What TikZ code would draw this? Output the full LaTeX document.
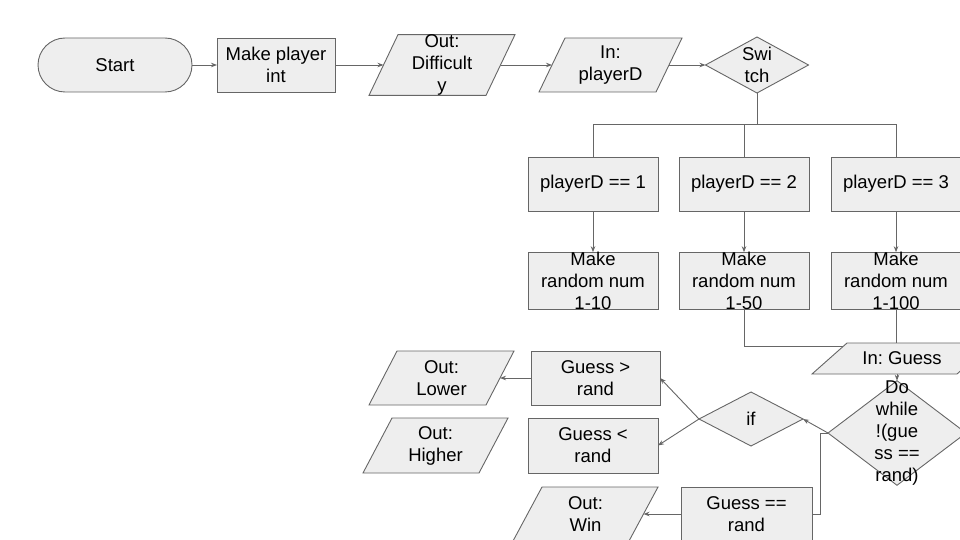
\documentclass[tikz,border=0pt]{standalone}
\usepackage{fontspec}
\setmainfont{Liberation Sans}
\frenchspacing
\usetikzlibrary{arrows.meta}
\definecolor{boxfill}{HTML}{EEEEEE}
\definecolor{edge}{HTML}{666666}
\pgfdeclarelayer{conn}
\pgfdeclarelayer{shapes}
\pgfsetlayers{conn,shapes,main}
\begin{document}
\begin{tikzpicture}[x=1pt,y=-1pt,
  every node/.style={font=\fontsize{18.5}{22}\selectfont, align=center, inner sep=0pt, outer sep=0pt},
  rbox/.style={draw=edge, fill=boxfill, line width=0.9pt, rectangle},
  shp/.style={draw=edge, fill=boxfill, line width=0.9pt, line join=miter},
  conn/.style={draw=edge, line width=0.9pt},
  arr/.style={conn, -{Stealth[length=6pt,width=4.5pt]}},
]
\useasboundingbox (0,0) rectangle (960,540);
\clip (0,0) rectangle (960,540);

% top row
\node[rbox, rounded corners=27pt, minimum width=154pt, minimum height=54pt] (start) at (115,65) {Start};
\node[rbox, minimum width=118pt, minimum height=54pt] (mk) at (276,65) {Make player\\int};
\node[minimum width=146pt, minimum height=54pt] (od) at (442,65) {Out:\\Difficult\\y};
\node[minimum width=143pt, minimum height=54pt] (ip) at (610.5,65) {In:\\playerD};
\node[minimum width=103pt, minimum height=56pt] (sw) at (757,65) {Swi\\tch};

% switch cases
\node[rbox, minimum width=130pt, minimum height=54pt] (p1) at (593,184) {playerD == 1};
\node[rbox, minimum width=130pt, minimum height=54pt] (p2) at (744,184) {playerD == 2};
\node[rbox, minimum width=130pt, minimum height=54pt] (p3) at (896,184) {playerD == 3};
\node[rbox, minimum width=130pt, minimum height=56pt] (r1) at (593,281) {Make\\random num\\1-10};
\node[rbox, minimum width=130pt, minimum height=56pt] (r2) at (744,281) {Make\\random num\\1-50};
\node[rbox, minimum width=130pt, minimum height=56pt] (r3) at (896,281) {Make\\random num\\1-100};

% loop
\node[minimum width=180pt, minimum height=31pt] (ig) at (902,358.5) {In: Guess};
\node[minimum width=138pt, minimum height=104pt] (dw) at (897,433) {Do\\while\\!(gue\\ss ==\\rand)};
\node[minimum width=104pt, minimum height=54pt] (ifd) at (751,419) {if};
\node[rbox, minimum width=129pt, minimum height=54pt] (gg) at (595.5,378) {Guess >\\rand};
\node[rbox, minimum width=130pt, minimum height=55pt] (gl) at (593,445.5) {Guess <\\rand};
\node[rbox, minimum width=131pt, minimum height=54pt] (gw) at (746.5,514) {Guess ==\\rand};
\node[minimum width=145pt, minimum height=54pt] (ol) at (441.5,378) {Out:\\Lower};
\node[minimum width=145pt, minimum height=55pt] (oh) at (435.5,445.5) {Out:\\Higher};
\node[minimum width=145pt, minimum height=54pt] (ow) at (585.5,514) {Out:\\Win};

\coordinate (j) at (896,346);

% shapes drawn behind the texts
\begin{pgfonlayer}{shapes}
\path[shp] (od.south west) -- ([xshift=29pt]od.north west) -- (od.north east) -- ([xshift=-29pt]od.south east) -- cycle;
\path[shp] (ip.south west) -- ([xshift=26pt]ip.north west) -- (ip.north east) -- ([xshift=-26pt]ip.south east) -- cycle;
\path[shp] (ig.south west) -- ([xshift=35pt]ig.north west) -- (ig.north east) -- ([xshift=-35pt]ig.south east) -- cycle;
\path[shp] (ol.south west) -- ([xshift=28pt]ol.north west) -- (ol.north east) -- ([xshift=-28pt]ol.south east) -- cycle;
\path[shp] (oh.south west) -- ([xshift=29pt]oh.north west) -- (oh.north east) -- ([xshift=-29pt]oh.south east) -- cycle;
\path[shp] (ow.south west) -- ([xshift=29pt]ow.north west) -- (ow.north east) -- ([xshift=-29pt]ow.south east) -- cycle;
\path[shp] (sw.west) -- (sw.north) -- (sw.east) -- (sw.south) -- cycle;
\path[shp] (ifd.west) -- (ifd.north) -- (ifd.east) -- (ifd.south) -- cycle;
\path[shp] (dw.west) -- (dw.north) -- (dw.east) -- (dw.south) -- cycle;
\end{pgfonlayer}

% connectors
\begin{pgfonlayer}{conn}
\draw[arr] (start.east) -- (mk.west);
\draw[arr] (mk.east) -- ([xshift=14.5pt]od.west);
\draw[arr] ([xshift=-14.5pt]od.east) -- ([xshift=13pt]ip.west);
\draw[arr] ([xshift=-13pt]ip.east) -- (sw.west);
\draw[conn] (sw.south) -- ++(0,32);
\draw[conn] (p1.north) -- ++(0,-33) -| (p3.north);
\draw[conn] (p2.north) -- ++(0,-33);
\draw[arr] (p1.south) -- (r1.north);
\draw[arr] (p2.south) -- (r2.north);
\draw[arr] (p3.south) -- (r3.north);
\draw[conn] (r2.south) |- (j);
\draw[conn] (r3.south) -- (r3.south |- ig.north);
\draw[arr] (dw.north |- ig.south) -- (dw.north);
\draw[arr] (dw.west) -- (ifd.east);
\draw[arr] (ifd.west) -- (gg.east);
\draw[arr] (ifd.west) -- (gl.east);
\draw[conn] (dw.west) -- ++(-8,0) |- (gw.east);
\draw[arr] (gw.west) -- ([xshift=-14.5pt]ow.east);
\draw[arr] (gg.west) -- ([xshift=-14pt]ol.east);
\end{pgfonlayer}
\end{tikzpicture}
\end{document}
